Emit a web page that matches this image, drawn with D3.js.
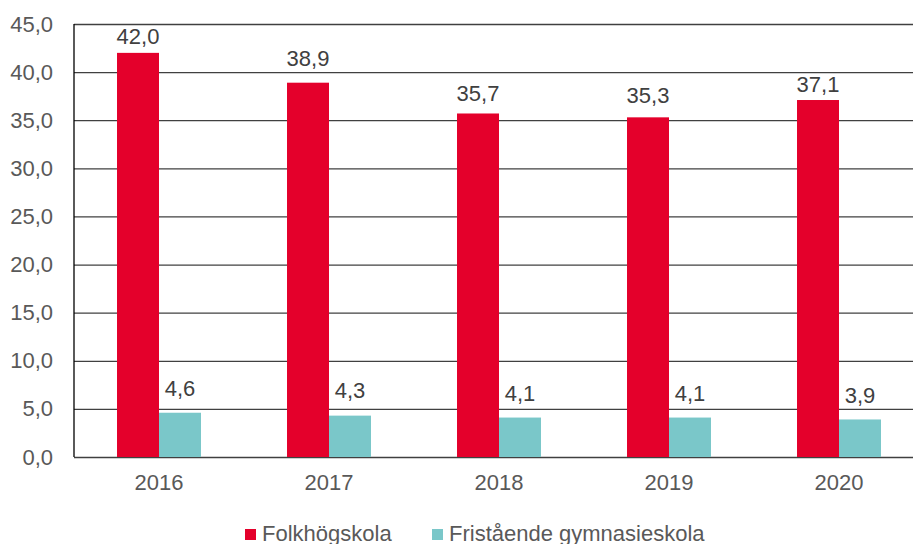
<!DOCTYPE html>
<html>
<head>
<meta charset="utf-8">
<script src="https://cdn.jsdelivr.net/npm/d3@7"></script>
<style>
  body { margin: 0; background: #fff; }
  svg { display: block; font-family: "Liberation Sans", Arial, sans-serif; }
</style>
</head>
<body>
<svg id="chart"></svg>
<script>
// data
var years = ['2016', '2017', '2018', '2019', '2020'];
var folk = [42.0, 38.9, 35.7, 35.3, 37.1];
var frist = [4.6, 4.3, 4.1, 4.1, 3.9];
var series_names = ['Folkhögskola', 'Fristående gymnasieskola'];
var y_ticks = [0, 5, 10, 15, 20, 25, 30, 35, 40, 45];

// board size
var svg_w = 913, svg_h = 544;
var pad_left = 74, pad_top = 24, plot_bottom = 457;
var colors = ['#e4002b', '#7ac7c9'];
var font_size = 22;
// label gap above the bar (labels were nudged by hand in the original)
var label_gap = [[9, 17, 12, 14, 8], [17, 18, 17, 17, 16]];

var fmt = function(v){ return d3.format('.1f')(v).replace('.', ','); };

var svg = d3.select('#chart').attr('width', svg_w).attr('height', svg_h);

// scales
var x_scale = d3.scaleBand().domain(years).range([pad_left, pad_left + 170 * years.length])
  .paddingInner(0.506).paddingOuter(0.253);
var x_sub = d3.scaleBand().domain([0, 1]).range([0, x_scale.bandwidth()]);
var y_scale = d3.scaleLinear().domain([0, 45]).range([plot_bottom, pad_top]);

// grid lines + y labels
var y_axis = d3.axisLeft(y_scale).tickValues(y_ticks).tickFormat(fmt)
  .tickSize(-(svg_w - pad_left)).tickPadding(21);
var yg = svg.append('g').attr('transform', 'translate(' + pad_left + ',0)').call(y_axis);
yg.select('.domain').remove();
yg.selectAll('.tick line').attr('stroke', '#404040').attr('stroke-width', 1.3);
yg.selectAll('.tick text').attr('fill', '#595959').attr('font-size', font_size)
  .attr('font-family', '"Liberation Sans", Arial, sans-serif');

// bars
var groups = [folk, frist];
groups.forEach(function(vals, s){
  var g = svg.append('g');
  g.selectAll('rect').data(vals).enter().append('rect')
    .attr('x', function(d, i){ return x_scale(years[i]) + x_sub(s); })
    .attr('y', function(d){ return y_scale(d); })
    .attr('width', x_sub.bandwidth())
    .attr('height', function(d){ return plot_bottom - y_scale(d); })
    .attr('fill', colors[s]);
  g.selectAll('text').data(vals).enter().append('text')
    .attr('x', function(d, i){ return x_scale(years[i]) + x_sub(s) + x_sub.bandwidth() / 2; })
    .attr('y', function(d, i){ return y_scale(d) - label_gap[s][i]; })
    .attr('text-anchor', 'middle').attr('font-size', font_size).attr('fill', '#404040')
    .text(fmt);
});

// left axis line
svg.append('line').attr('x1', pad_left).attr('x2', pad_left)
  .attr('y1', pad_top).attr('y2', plot_bottom)
  .attr('stroke', '#000').attr('stroke-width', 1.3);

// x labels
var x_axis = d3.axisBottom(x_scale).tickSize(0).tickPadding(17);
var xg = svg.append('g').attr('transform', 'translate(0,' + plot_bottom + ')').call(x_axis);
xg.select('.domain').remove();
xg.selectAll('.tick text').attr('fill', '#595959').attr('font-size', font_size)
  .attr('font-family', '"Liberation Sans", Arial, sans-serif');

// legend
var legend_x = [245, 432];
series_names.forEach(function(name, s){
  var lg = svg.append('g').attr('transform', 'translate(' + legend_x[s] + ',529)');
  lg.append('rect').attr('width', 11).attr('height', 11).attr('fill', colors[s]);
  lg.append('text').attr('x', 17).attr('y', 11.5).attr('font-size', 22)
    .attr('fill', '#595959').text(name);
});
</script>
</body>
</html>
